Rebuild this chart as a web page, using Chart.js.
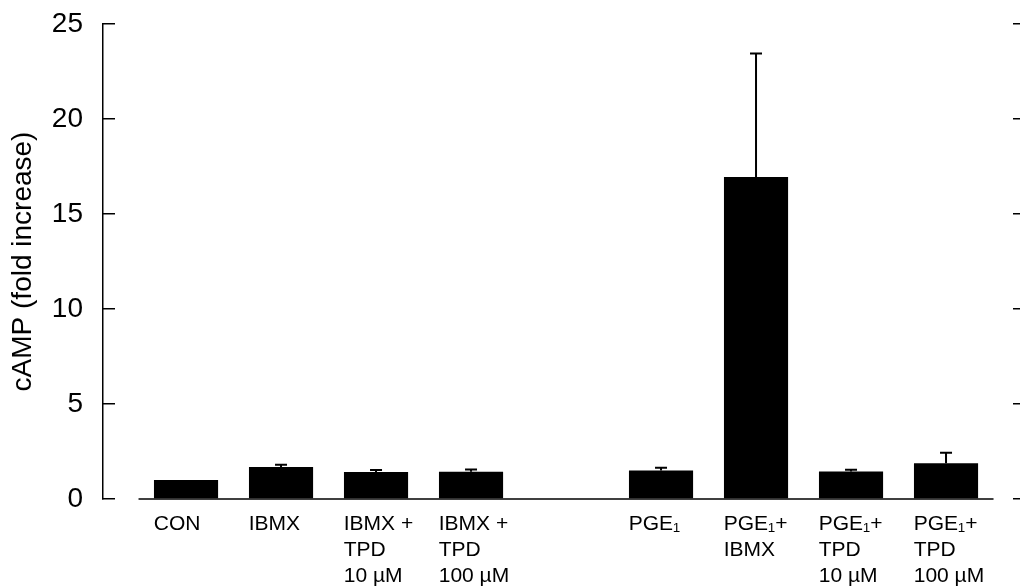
<!DOCTYPE html>
<html lang="en">
<head>
    <meta charset="utf-8" />
    <title>cAMP fold increase</title>
    <script src="https://cdn.jsdelivr.net/npm/chart.js"></script>
    <style>
        body { margin: 0; background: #fff; }
        #wrap { width: 1020px; height: 588px; }
    </style>
</head>
<body>
    <div id="wrap"><canvas id="myChart" width="1020" height="588"></canvas></div>
    <script>
        // Categories (one empty slot separates the two groups)
        var labelLines = [
            ["CON"],
            ["IBMX"],
            ["IBMX +", "TPD", "10 µM"],
            ["IBMX +", "TPD", "100 µM"],
            [""],
            ["PGE₁"],
            ["PGE₁+", "IBMX"],
            ["PGE₁+", "TPD", "10 µM"],
            ["PGE₁+", "TPD", "100 µM"]
        ];
        // cAMP fold increase and error (upper bar only)
        var cAMP = [1.0, 1.68, 1.42, 1.43, null, 1.5, 16.95, 1.45, 1.88];
        var errUp = [0, 0.12, 0.11, 0.12, null, 0.15, 6.5, 0.09, 0.55];
        var yTicks = [0, 5, 10, 15, 20, 25];

        var points = [];
        cAMP.forEach(function (v, i) {
            if (v !== null) points.push({ x: i, y: v });
        });

        // error bars + baseline drawn from the scales
        var errorBars = {
            id: 'errorBars',
            afterDatasetsDraw: function (chart) {
                var ctx = chart.ctx;
                var xs = chart.scales.x, ys = chart.scales.y;
                ctx.save();
                ctx.strokeStyle = '#000';
                // baseline
                ctx.lineWidth = 1.5;
                ctx.beginPath();
                ctx.moveTo(xs.getPixelForValue(-0.5), ys.getPixelForValue(0));
                ctx.lineTo(xs.getPixelForValue(labelLines.length - 0.5), ys.getPixelForValue(0));
                ctx.stroke();
                // error bars
                ctx.lineWidth = 2;
                cAMP.forEach(function (v, i) {
                    if (v === null || !errUp[i]) return;
                    var px = xs.getPixelForValue(i);
                    var top = ys.getPixelForValue(v + errUp[i]);
                    var bot = ys.getPixelForValue(v);
                    ctx.beginPath();
                    ctx.moveTo(px, bot);
                    ctx.lineTo(px, top);
                    ctx.moveTo(px - 6, top);
                    ctx.lineTo(px + 6, top);
                    ctx.stroke();
                });
                ctx.restore();
            }
        };

        const ctx = document.getElementById('myChart').getContext('2d');
        new Chart(ctx, {
            type: 'bar',
            data: {
                datasets: [{
                    data: points,
                    backgroundColor: '#000',
                    borderWidth: 0,
                    barPercentage: 0.675,
                    categoryPercentage: 1
                }]
            },
            options: {
                responsive: false,
                animation: false,
                layout: { padding: { top: 24, left: 0, right: 0, bottom: 0 } },
                plugins: { legend: { display: false }, tooltip: { enabled: false } },
                scales: {
                    x: {
                        type: 'linear',
                        offset: false,
                        min: -0.874,
                        max: 8.705,
                        grid: { display: false, drawTicks: false, offset: false },
                        border: { display: false },
                        afterBuildTicks: function (scale) {
                            scale.ticks = labelLines.map(function (l, i) { return { value: i - 0.34 }; });
                        },
                        afterFit: function (scale) { scale.height = 89; },
                        ticks: {
                            autoSkip: false,
                            maxRotation: 0,
                            align: 'start',
                            padding: 12,
                            color: '#000',
                            font: { family: 'Liberation Sans, Arial, sans-serif', size: 21, lineHeight: 1.25 },
                            callback: function (value, index) { return labelLines[index]; }
                        }
                    },
                    y: {
                        position: 'left',
                        min: 0,
                        max: 25,
                        afterBuildTicks: function (scale) {
                            scale.ticks = yTicks.map(function (t) { return { value: t }; });
                        },
                        afterFit: function (scale) {
                            scale.width = 103;
                            scale.paddingTop = 0;
                            scale.paddingBottom = 0;
                        },
                        grid: { drawOnChartArea: false, tickLength: -12, color: '#000', lineWidth: 1.5 },
                        border: { color: '#000', width: 1.5 },
                        ticks: {
                            padding: 32,
                            color: '#000',
                            font: { family: 'Liberation Sans, Arial, sans-serif', size: 28 }
                        },
                        title: {
                            display: true,
                            text: 'cAMP (fold increase)',
                            color: '#000',
                            padding: { top: 6, bottom: 0 },
                            font: { family: 'Liberation Sans, Arial, sans-serif', size: 28 }
                        }
                    },
                    y2: {
                        position: 'right',
                        min: 0,
                        max: 25,
                        afterBuildTicks: function (scale) {
                            scale.ticks = yTicks.map(function (t) { return { value: t }; });
                        },
                        grid: { drawOnChartArea: false, tickLength: 7, color: '#000', lineWidth: 1.5 },
                        border: { display: false },
                        ticks: { display: false }
                    }
                }
            },
            plugins: [errorBars]
        });
    </script>
</body>
</html>
